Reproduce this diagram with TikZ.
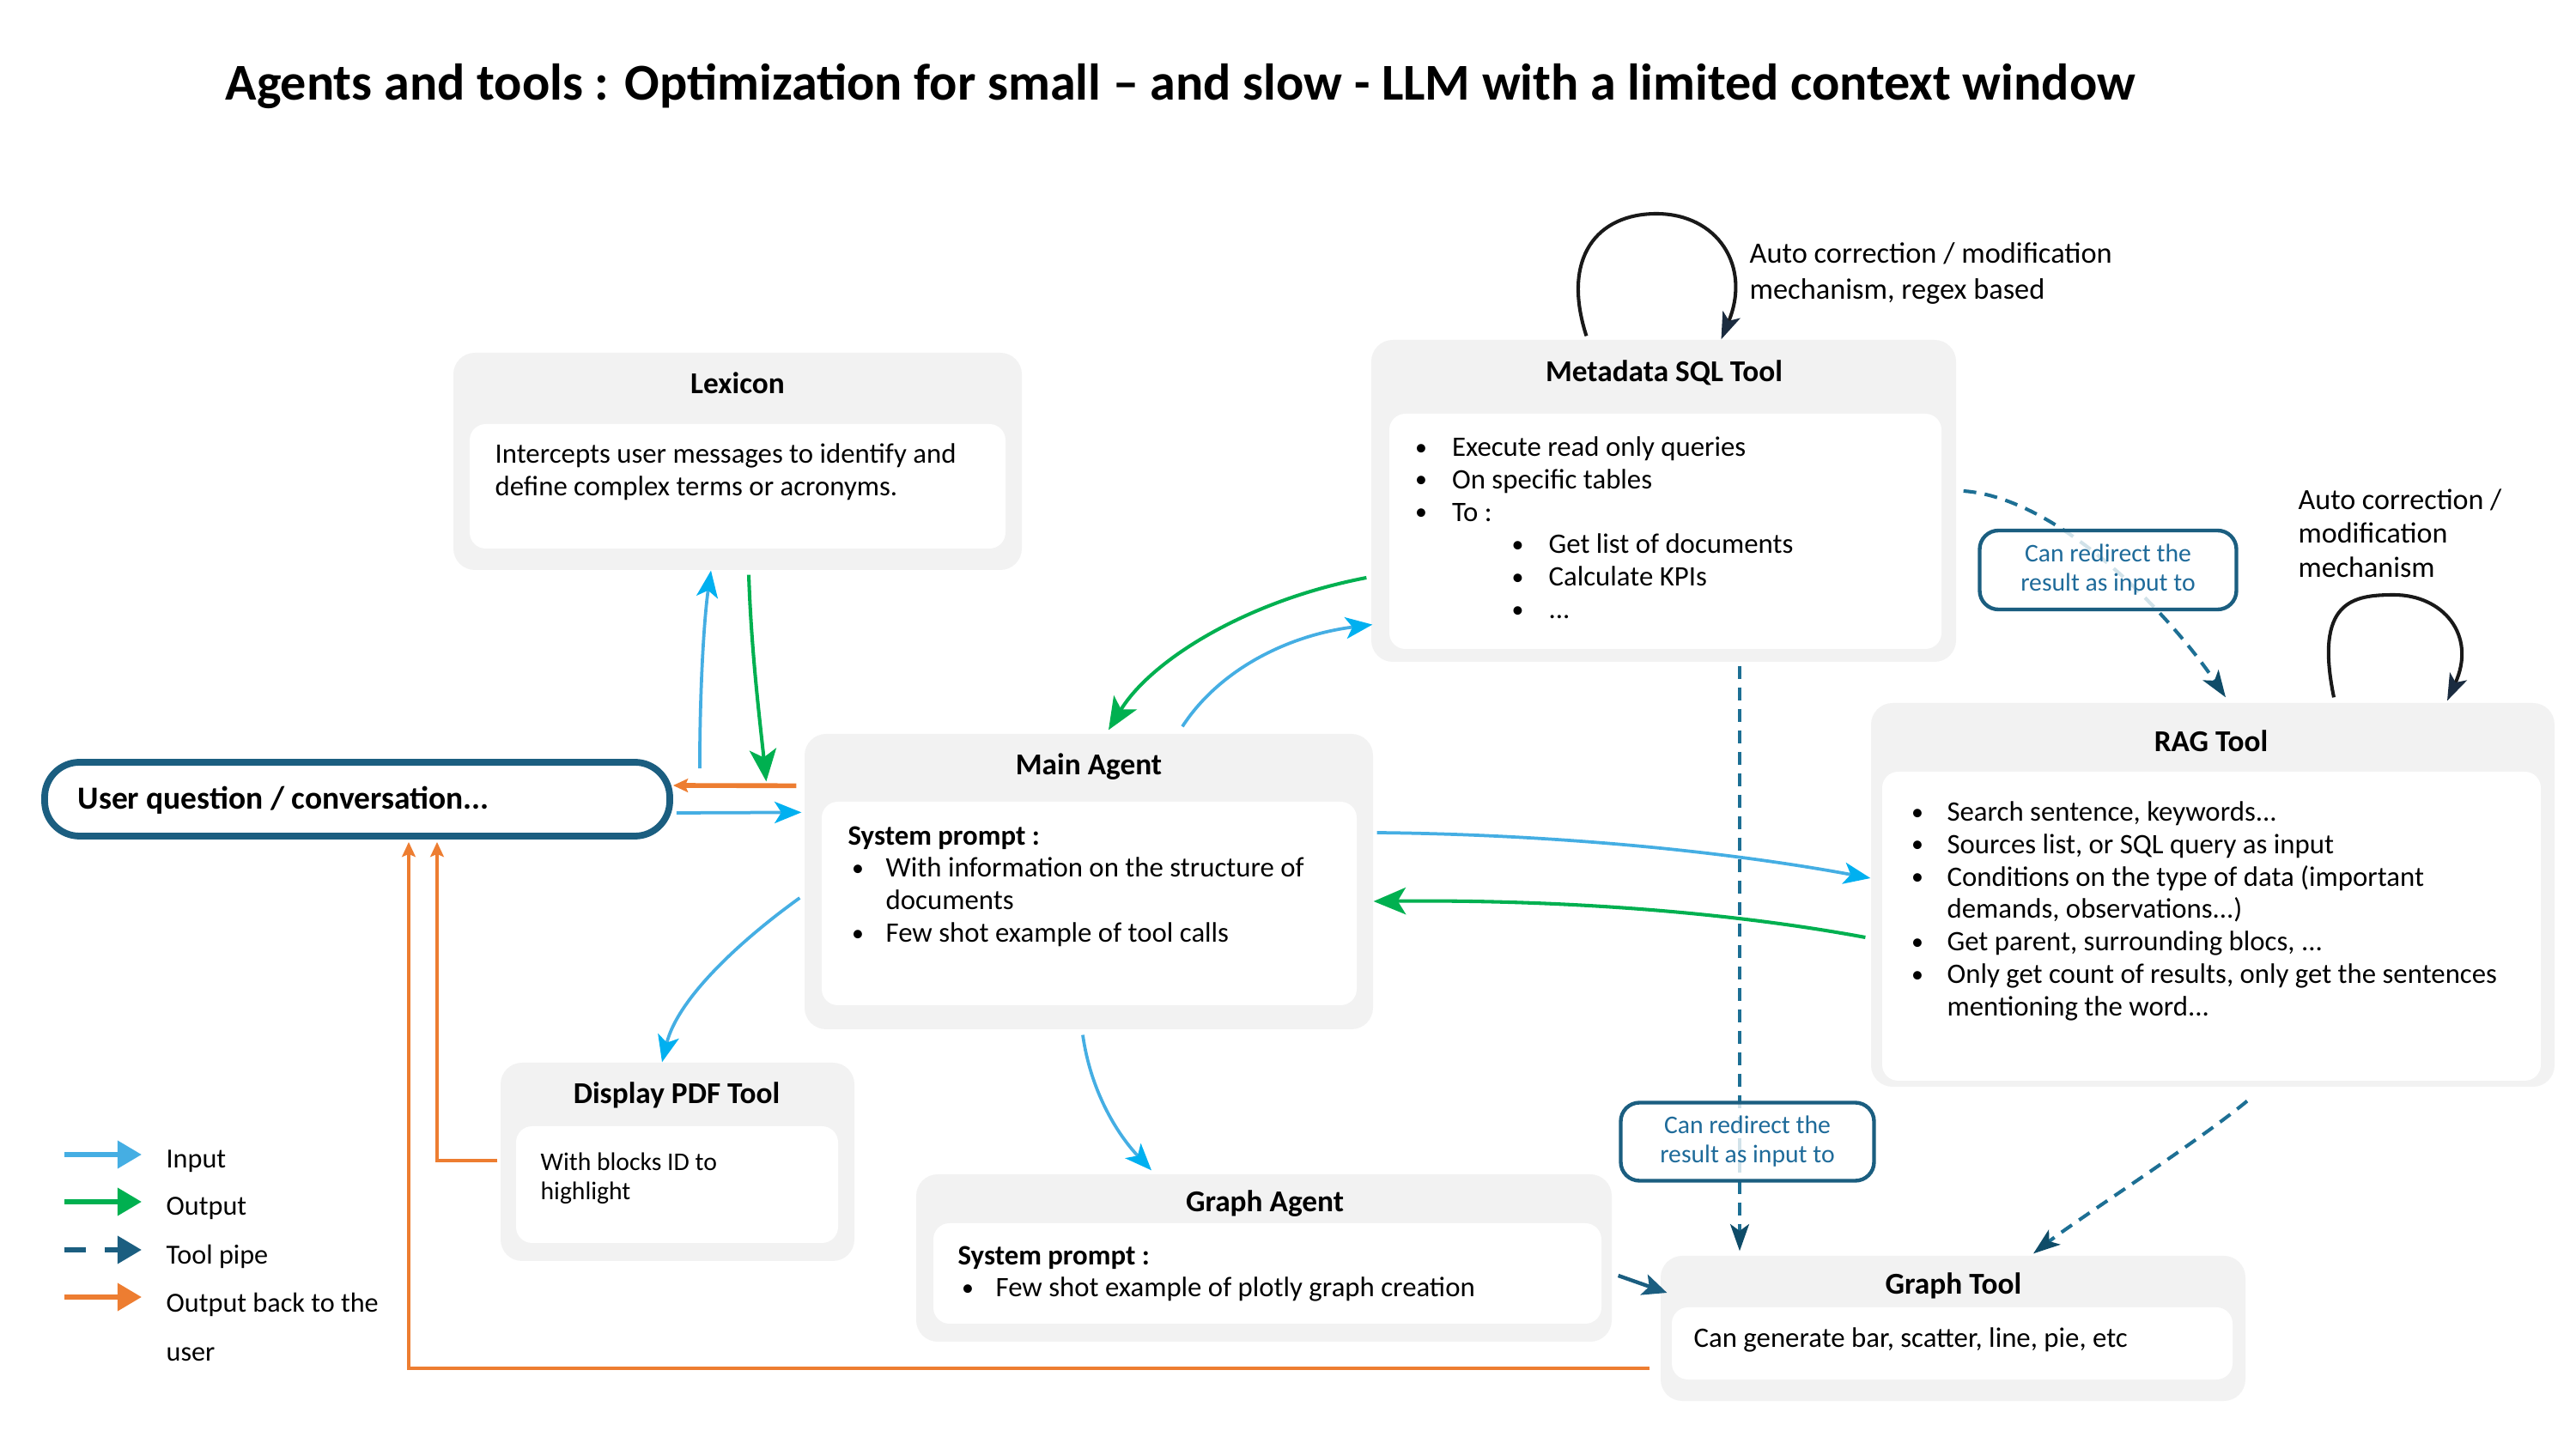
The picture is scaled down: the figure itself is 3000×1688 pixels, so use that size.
\documentclass[tikz,border=0pt]{standalone}
\usepackage{fontspec}
\setmainfont{Carlito}
\usetikzlibrary{arrows.meta,calc,fit}
\definecolor{boxgray}{HTML}{F2F2F2}
\definecolor{inblue}{HTML}{45AEE3}
\definecolor{inhead}{HTML}{00B0F0}
\definecolor{outgreen}{HTML}{00B050}
\definecolor{backorange}{HTML}{ED7D31}
\definecolor{pipeline}{HTML}{1D6F94}
\definecolor{pipehead}{HTML}{0F4C68}
\definecolor{userborder}{HTML}{1B5E80}
\definecolor{labtext}{HTML}{1F6B9A}
\definecolor{loophead}{HTML}{1B2C40}
\newcommand\bul[1][12pt]{\makebox[#1][l]{\kern-1.8pt\raisebox{0.4pt}{\scalebox{0.85}{\textbullet}}}}
\begin{document}
\begin{tikzpicture}[x=0.32pt,y=-0.32pt,
  outerbox/.style={fill=boxgray, rounded corners=8pt, inner sep=0pt, draw=none},
  innerbox/.style={fill=white, rounded corners=6pt, inner sep=0pt, draw=none},
  boxtitle/.style={font=\fontsize{11.3}{13}\selectfont\bfseries, inner sep=0pt},
  bodytext/.style={font=\fontsize{10.5}{12.1}\selectfont, align=left, anchor=north west, inner sep=0pt},
  smalltext/.style={font=\fontsize{9.5}{10.9}\selectfont, align=left, anchor=north west, inner sep=0pt},
  redirect/.style={draw=userborder, line width=1.4pt, rounded corners=7pt, fill=white, fill opacity=0.8, text opacity=1, text=labtext, font=\fontsize{9.5}{10.9}\selectfont, align=center, inner sep=0pt},
  inarrow/.style={draw=inblue, line width=1.2pt, -{Stealth[length=10pt,width=8pt,inset=2.5pt,color=inhead]}},
  outarrow/.style={draw=outgreen, line width=1.3pt, -{Stealth[length=12pt,width=10pt,inset=3pt]}},
  backarrow/.style={draw=backorange, line width=1.3pt, -{Stealth[length=5.5pt,width=5pt,inset=1pt]}},
  pipearrow/.style={draw=pipeline, line width=1.3pt, dash pattern=on 4.8pt off 3.2pt, -{Stealth[length=10pt,width=7pt,inset=2.5pt,color=pipehead]}},
  looparrow/.style={draw=black!90, line width=1.3pt, -{Stealth[length=10pt,width=7pt,inset=2.5pt,color=loophead]}},
  legendtext/.style={font=\fontsize{10.3}{18}\selectfont, align=left, anchor=west, inner sep=0pt}
]
\useasboundingbox (0,0) rectangle (3000,1688);

% title
\node[anchor=west, inner sep=0pt, font=\fontsize{19.25}{23}\selectfont\bfseries] (title) at (262,100)
  {Agents and tools : Optimization for small – and slow - LLM with a limited context window};

% Lexicon
\node[outerbox, fit={(528,411) (1190,664)}] (lex) {};
\node[innerbox, fit={(547,494) (1171,639)}] (lexin) {};
\node[boxtitle] (lextitle) at (859,446) {Lexicon};
\node[bodytext] (lextext) at (576,516) {Intercepts user messages to identify and\\define complex terms or acronyms.};

% Metadata SQL Tool
\node[outerbox, fit={(1597,396) (2278,771)}] (meta) {};
\node[innerbox, fit={(1618,482) (2261,756)}] (metain) {};
\node[boxtitle] (metatitle) at (1938,434) {Metadata SQL Tool};
\node[bodytext] (metatext) at (1653,508) {\bul Execute read only queries\\
\bul On specific tables\\
\bul To :\\
\hspace*{36pt}\bul Get list of documents\\
\hspace*{36pt}\bul Calculate KPIs\\
\hspace*{36pt}\bul ...};

% RAG Tool
\node[outerbox, fit={(2179,819) (2975,1266)}] (rag) {};
\node[innerbox, fit={(2192,899) (2959,1259)}] (ragin) {};
\node[boxtitle] (ragtitle) at (2575,863) {RAG Tool};
\node[bodytext] (ragtext) at (2231,933) {\bul[11.5pt]Search sentence, keywords...\\
\bul[11.5pt]Sources list, or SQL query as input\\
\bul[11.5pt]Conditions on the type of data (important\\
\hspace*{11.5pt}demands, observations...)\\
\bul[11.5pt]Get parent, surrounding blocs, ...\\
\bul[11.5pt]Only get count of results, only get the sentences\\
\hspace*{11.5pt}mentioning the word...};

% Main Agent
\node[outerbox, fit={(937,855) (1599,1199)}] (main) {};
\node[innerbox, fit={(957,934) (1580,1171)}] (mainin) {};
\node[boxtitle] (maintitle) at (1268,893) {Main Agent};
\node[bodytext] (maintext) at (987,962) {\textbf{System prompt :}\\
\hspace*{3.2pt}\bul[10.9pt]With information on the structure of\\
\hspace*{14.1pt}documents\\
\hspace*{3.2pt}\bul[10.9pt]Few shot example of tool calls};

% User question
\node[draw=userborder, line width=2.5pt, rounded corners=13pt, fill=white, inner sep=0pt, fit={(52,888) (780,974)}] (user) {};
\node[anchor=west, inner sep=0pt, font=\fontsize{12}{14}\selectfont\bfseries] (usertext) at (90,932) {User question / conversation...};

% Display PDF Tool
\node[outerbox, fit={(583,1238) (995,1469)}] (pdf) {};
\node[innerbox, fit={(601,1312) (976,1448)}] (pdfin) {};
\node[boxtitle] (pdftitle) at (788,1276) {Display PDF Tool};
\node[smalltext] (pdftext) at (629,1342) {With blocks ID to\\highlight};

% Graph Agent
\node[outerbox, fit={(1067,1368) (1877,1563)}] (gagent) {};
\node[innerbox, fit={(1087,1425) (1865,1542)}] (gagentin) {};
\node[boxtitle] (gagenttitle) at (1473,1402) {Graph Agent};
\node[bodytext] (gagenttext) at (1115,1451) {\textbf{System prompt :}\\
\hspace*{3.2pt}\bul[10.9pt]Few shot example of plotly graph creation};

% Graph Tool
\node[outerbox, fit={(1934,1463) (2615,1632)}] (gtool) {};
\node[innerbox, fit={(1947,1523) (2600,1607)}] (gtoolin) {};
\node[boxtitle] (gtooltitle) at (2275,1498) {Graph Tool};
\node[bodytext, anchor=west] (gtooltext) at (1972,1561) {Can generate bar, scatter, line, pie, etc};

% loop labels
\node[bodytext, font=\fontsize{11}{13.5}\selectfont] (loop1text) at (2037,282) {Auto correction / modification\\mechanism, regex based};
\node[bodytext, font=\fontsize{10.9}{12.6}\selectfont] (loop2text) at (2676,569) {Auto correction /\\modification\\mechanism};

% self loops
\draw[looparrow] ($(meta.north)+(-90,-4)$) .. controls (1818,300) and (1860,249) .. (1929,249)
  .. controls (2000,249) and (2040,310) .. ($(meta.north)+(67,0)$);
\draw[looparrow] ($(rag.north)+(141,-6)$) .. controls (2695,700) and (2740,693) .. (2788,693)
  .. controls (2845,693) and (2885,740) .. ($(rag.north)+(273,-2)$);

% input arrows (blue)
\draw[inarrow] ($(user.north east)+(31,11)$) .. controls (815,800) and (820,720) .. ($(lex.south)+(-31,0)$);
\draw[inarrow] ($(user.east)+(4,16)$) -- ($(main.north west)+(-3,92)$);
\draw[inarrow] ($(main.north)+(109,-8)$) .. controls (1420,780) and (1500,740) .. ($(meta.south west)+(2,-44)$);
\draw[inarrow] ($(main.east)+(4,-57)$) .. controls (1800,972) and (2000,990) .. ($(rag.west)+(0,-19.5)$);
\draw[inarrow] ($(main.west)+(-5,19)$) .. controls (870,1090) and (790,1160) .. ($(pdf.north)+(-18,0)$);
\draw[inarrow] ($(main.south)+(-7,6)$) .. controls (1270,1270) and (1300,1320) .. ($(gagent.north)+(-131,-4)$);

% output arrows (green)
\draw[outarrow] ($(lex.south)+(13,5)$) .. controls (875,760) and (885,840) .. ($(main.north west)+(-44,56)$);
\draw[outarrow] ($(meta.west)+(-5,89.5)$) .. controls (1450,700) and (1340,770) .. ($(main.north)+(23,-4)$);
\draw[outarrow] ($(rag.west)+(-6,49.5)$) .. controls (2000,1060) and (1800,1048) .. ($(main.east)+(0,23)$);

% output back to user (orange)
\draw[backarrow, line width=1.8pt] ($(main.north west)+(-9,61)$) -- ($(user.east)+(0,-16)$);
\draw[backarrow] ($(gtool.west)+(-12,46.5)$) -| ($(user.south)+(60,3)$);
\draw[backarrow] ($(pdf.west)+(-3,-1.5)$) -| ($(user.south)+(93,3)$);

% tool pipes
\draw[pipearrow] ($(meta.east)+(8,-11.5)$) .. controls (2400,580) and (2530,720) .. ($(rag.north)+(15,-6)$);
\draw[pipearrow] ($(meta.south)+(88.5,4)$) -- ($(gtool.north)+(-248.5,-5)$);
\draw[pipearrow] ($(rag.south)+(40,16)$) .. controls (2560,1330) and (2420,1420) .. ($(gtool.north)+(93.5,-2)$);
\draw[draw=userborder, line width=1.4pt, -{Stealth[length=9pt,width=8pt,inset=2pt]}] ($(gagent.east)+(7,20.5)$) -- ($(gtool.west)+(8,-41.5)$);

% redirect labels
\node[redirect, minimum width=299*0.32pt, minimum height=92*0.32pt] (redir1) at (2455,664) {Can redirect the\\result as input to};
\node[redirect, minimum width=295*0.32pt, minimum height=91*0.32pt] (redir2) at (2035,1330) {Can redirect the\\result as input to};

% legend
\coordinate (lg1a) at (75,1345); \coordinate (lg1b) at (165,1345);
\coordinate (lg2a) at (75,1400); \coordinate (lg2b) at (165,1400);
\coordinate (lg3a) at (75,1456); \coordinate (lg3b) at (165,1456);
\coordinate (lg4a) at (75,1511); \coordinate (lg4b) at (165,1511);
\draw[draw=inblue, line width=2pt, -{Stealth[length=9pt,width=10pt,inset=0pt,color=inblue]}] (lg1a) -- (lg1b);
\draw[draw=outgreen, line width=2pt, -{Stealth[length=9pt,width=10pt,inset=0pt]}] (lg2a) -- (lg2b);
\draw[draw=userborder, line width=2pt, dash pattern=on 8pt off 7pt, -{Stealth[length=9pt,width=10pt,inset=0pt]}] (lg3a) -- (lg3b);
\draw[draw=backorange, line width=2pt, -{Stealth[length=9pt,width=10pt,inset=0pt]}] (lg4a) -- (lg4b);
\node[legendtext] (lgt1) at (193,1353) {Input};
\node[legendtext] (lgt2) at (193,1408) {Output};
\node[legendtext] (lgt3) at (193,1464) {Tool pipe};
\node[legendtext, anchor=north west] (lgt4) at (193,1506) {Output back to the\\user};
\end{tikzpicture}
\end{document}
